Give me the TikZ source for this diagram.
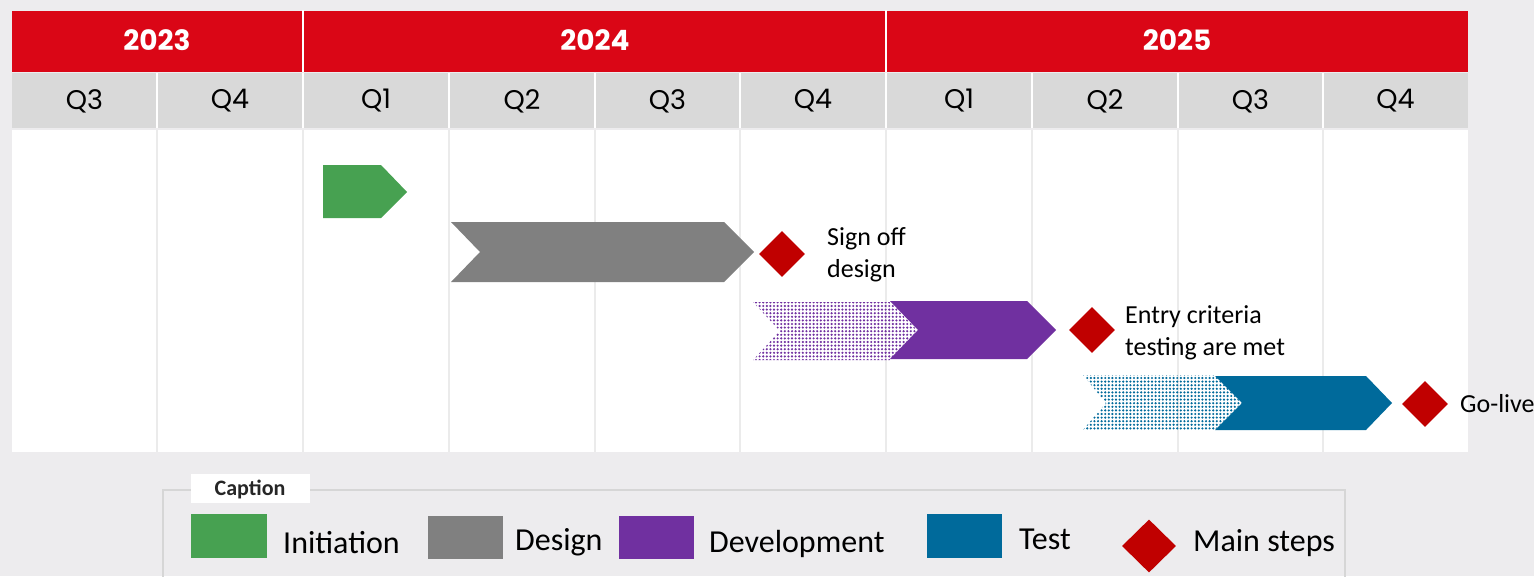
\documentclass[tikz,border=0pt]{standalone}
\usepackage{fontspec}
\setmainfont{Carlito}
\newfontfamily\pop{Poppins}
\usetikzlibrary{shapes.geometric,patterns.meta}
\definecolor{bgc}{HTML}{EDECEE}
\definecolor{hdrred}{HTML}{DA0616}
\definecolor{hdrgrey}{HTML}{D9D9D9}
\definecolor{vline}{HTML}{EBEBEB}
\definecolor{cgreen}{HTML}{47A151}
\definecolor{cgrey}{HTML}{808080}
\definecolor{cpurple}{HTML}{7030A0}
\definecolor{cteal}{HTML}{006A9B}
\definecolor{dred}{HTML}{C00000}
\definecolor{lgborder}{HTML}{D6D6D6}
\tikzset{
  yearlbl/.style={text=white,font=\pop\bfseries\fontsize{28}{32}\selectfont,inner sep=0},
  qlbl/.style={text=black,font=\pop\fontsize{27}{30}\selectfont,inner sep=0},
  milestone/.style={shape=diamond,fill=dred,draw=none,inner sep=0,minimum width=46pt,minimum height=46pt},
  note/.style={font=\fontsize{26}{32}\selectfont,align=left,anchor=west,inner sep=0},
  lgtext/.style={font=\fontsize{32}{36}\selectfont,anchor=base west,inner sep=0},
  dotted fill/.style={pattern={Dots[distance=3.6pt,radius=1.2pt]},pattern color=#1}
}
\begin{document}
\begin{tikzpicture}[x=1pt,y=-1pt]
\useasboundingbox (0,0) rectangle (1534,576);
\fill[bgc] (0,0) rectangle (1534,576);
% body
\fill[white] (12,130) rectangle (1468,452);
\foreach \x in {157,303,449,595,740,886,1032,1178,1323}
  \draw[vline,line width=1.5pt] (\x,130) -- (\x,452);
% header red
\fill[hdrred] (12,11) rectangle (1468,72);
\draw[white,line width=2pt] (303,10) -- (303,72) (886,10) -- (886,72);
% quarter row
\fill[hdrgrey] (12,73) rectangle (1468,128);
\foreach \x in {157,303,449,595,740,886,1032,1178,1323}
  \draw[white,line width=2pt] (\x,73) -- (\x,128);
\node[yearlbl] (y2023) at (157,40) {2023};
\node[yearlbl] (y2024) at (595,40) {2024};
\node[yearlbl] (y2025) at (1177,40) {2025};
\foreach \lbl/\x [count=\i] in {Q3/84.5,Q4/230,Q1/376,Q2/522,Q3/667.5,Q4/813,Q1/959,Q2/1105,Q3/1250.5,Q4/1395.5}
  \node[qlbl] (q\i) at (\x,101) {\lbl};
% bars
\fill[cgreen] (323,165) -- (381,165) -- (407,192) -- (381,218) -- (323,218) -- cycle;
\fill[cgrey] (451,222) -- (724,222) -- (754,252) -- (724,282) -- (451,282) -- (480,252) -- cycle;
\fill[dotted fill=cpurple] (753,302) -- (890,302) -- (918,331) -- (890,360) -- (753,360) -- (780,331) -- cycle;
\fill[cpurple] (890,301) -- (1027,301) -- (1056,330) -- (1027,359) -- (890,359) -- (918,330) -- cycle;
\fill[dotted fill=cteal] (1083,375) -- (1215,375) -- (1242,403) -- (1215,430) -- (1083,430) -- (1106,403) -- cycle;
\fill[cteal] (1215,376) -- (1366,376) -- (1392,403) -- (1366,430) -- (1215,430) -- (1242,403) -- cycle;
% milestones
\node[milestone] (m1) at (782,254) {};
\node[milestone] (m2) at (1092,330) {};
\node[milestone] (m3) at (1425,404) {};
\node[note] (t1) at (827,255) {Sign off\\design};
\node[note] (t2) at (1125,333) {Entry criteria\\testing are met};
\node[note] (t3) at (1460,404) {Go-live};
% legend
\draw[lgborder,line width=1.5pt] (163,600) -- (163,490) -- (1345,490) -- (1345,600);
\fill[white] (191,474) rectangle (310,503);
\node[font=\bfseries\fontsize{22}{24}\selectfont,text=black!85,inner sep=0] (cap) at (250,489) {Caption};
\fill[cgreen] (191,514) rectangle (267,558);
\node[lgtext] (l1) at (283,553) {Initiation};
\fill[cgrey] (428,516) rectangle (503,559);
\node[lgtext] (l2) at (515,550) {Design};
\fill[cpurple] (619,516) rectangle (694,559);
\node[lgtext] (l3) at (709,552) {Development};
\fill[cteal] (927,514) rectangle (1002,558);
\node[lgtext] (l4) at (1019,549) {Test};
\node[milestone,minimum width=54pt,minimum height=53pt] (lm) at (1149,546) {};
\node[lgtext] (l5) at (1193,551) {Main steps};
\end{tikzpicture}
\end{document}
